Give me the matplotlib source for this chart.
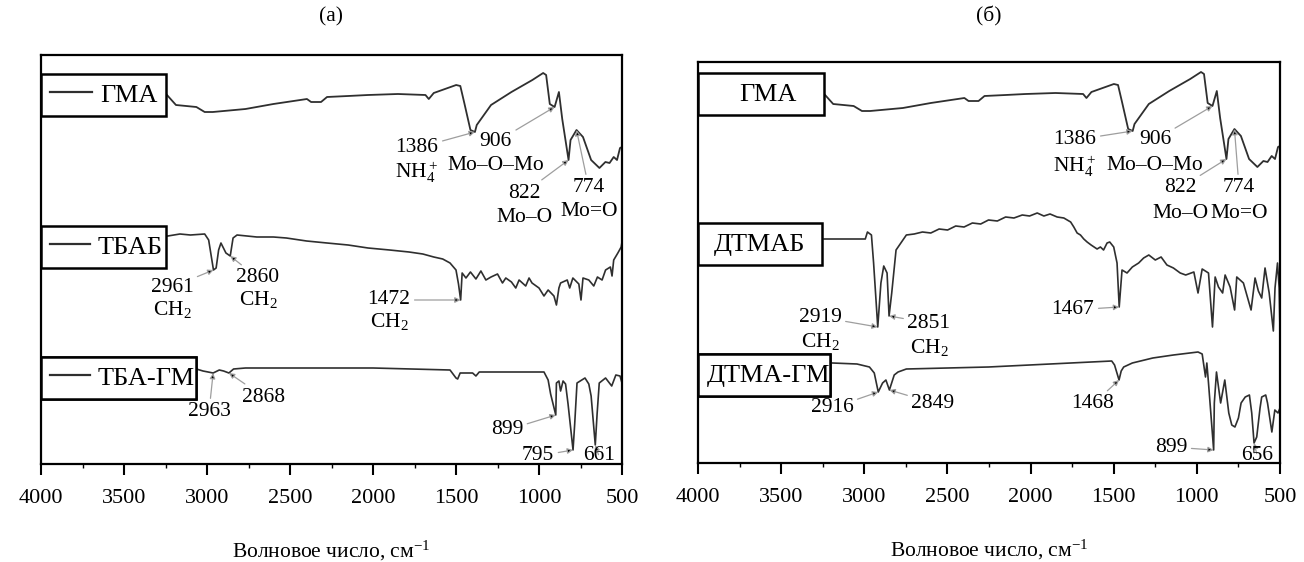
import numpy as np
import matplotlib.pyplot as plt
from matplotlib.lines import Line2D
from matplotlib.ticker import MultipleLocator

plt.rcParams['font.family'] = 'Liberation Serif'
plt.rcParams['mathtext.fontset'] = 'custom'
plt.rcParams['mathtext.rm'] = 'Liberation Serif'
plt.rcParams['mathtext.it'] = 'Liberation Serif:italic'

# IR spectra, wavenumber (cm-1) and transmittance with vertical offset (a.u.)
gma_wn = [3241, 3187, 3064, 3014, 2965, 2768, 2600, 2398, 2373, 2313, 2277, 2150,
          2030, 1850, 1684, 1664, 1634, 1499, 1474, 1450, 1413, 1386, 1375, 1289,
          1166, 1040, 975, 957, 935, 906, 880, 860, 822, 810, 774, 735, 686,
          636, 600, 575, 550, 530, 512, 500]
gma_t = [369, 359, 357, 352, 352, 355, 360, 365, 362, 362, 367, 368,
         369, 370, 369, 365, 371, 379, 378, 361, 334, 332, 339, 359,
         372, 384, 391, 389, 360, 357, 372, 345, 304, 324, 334, 327, 304,
         296, 302, 301, 307, 304, 316, 317]

tbab_wn = [3236, 3163, 3100, 3014, 2990, 2961, 2945, 2930, 2916, 2886, 2860, 2843,
           2819, 2700, 2600, 2522, 2400, 2277, 2150, 2030, 1900, 1783, 1700, 1634,
           1580, 1536, 1500, 1485, 1472, 1463, 1440, 1413, 1380, 1350, 1320, 1289,
           1250, 1220, 1200, 1166, 1140, 1120, 1080, 1060, 1042, 1000, 970, 945,
           910, 895, 880, 870, 830, 815, 796, 760, 747, 735, 700, 670, 648, 620,
           599, 570, 560, 550, 525, 505, 500]
tbab_t = [228, 230, 229, 230, 224, 194, 196, 214, 221, 211, 208, 226,
          229, 227, 227, 226, 223, 221, 219, 216, 214, 212, 210, 207,
          205, 201, 194, 180, 164, 191, 186, 192, 185, 193, 184, 187,
          190, 181, 186, 182, 176, 184, 178, 186, 181, 176, 168, 174,
          168, 159, 176, 181, 184, 176, 186, 180, 164, 186, 184, 178, 187, 184,
          194, 197, 188, 204, 211, 217, 222]

tbagm_wn = [3064, 3024, 2963, 2926, 2900, 2868, 2840, 2768, 2000, 1536, 1500, 1490,
            1475, 1400, 1380, 1360, 1042, 970, 945, 930, 899, 895, 880, 870,
            855, 840, 825, 795, 785, 771, 723, 700, 686, 661, 650, 637, 599,
            562, 537, 512, 500]
tbagm_t = [95, 93, 91, 94, 93, 91, 95, 96, 96, 94, 86, 85,
           91, 91, 88, 92, 92, 92, 84, 70, 49, 81, 83, 73,
           83, 80, 60, 14, 40, 81, 86, 80, 68, 19, 50, 81, 86,
           78, 89, 88, 81]

dtmab_wn = [3242, 2994, 2981, 2957, 2944, 2919, 2900, 2883, 2863, 2851, 2835, 2809,
            2747, 2700, 2650, 2600, 2550, 2499, 2450, 2400, 2350, 2300, 2253, 2200,
            2150, 2100, 2050, 2006, 1960, 1920, 1883, 1840, 1800, 1759, 1740, 1720,
            1700, 1680, 1660, 1636, 1600, 1580, 1561, 1540, 1524, 1500, 1480, 1467,
            1450, 1420, 1388, 1350, 1320, 1289, 1250, 1215, 1180, 1141, 1100, 1067,
            1018, 993, 968, 930, 906, 890, 870, 845, 830, 800, 773, 760, 720, 674,
            650, 630, 610, 590, 565, 540, 530, 515, 505, 500]
dtmab_t = [224, 224, 231, 228, 200, 136, 180, 197, 190, 147, 170, 213,
           228, 229, 231, 230, 234, 233, 237, 236, 240, 239, 243, 242,
           246, 245, 248, 247, 250, 247, 249, 246, 245, 241, 236, 230,
           228, 224, 221, 218, 214, 216, 213, 220, 221, 216, 200, 156,
           193, 190, 196, 200, 205, 208, 203, 206, 198, 195, 190, 188,
           191, 170, 194, 190, 136, 186, 176, 170, 188, 176, 153, 186, 180, 153,
           185, 172, 165, 195, 170, 132, 175, 200, 175, 132]

dtmagm_wn = [3191, 3044, 2969, 2940, 2916, 2890, 2870, 2849, 2820, 2797, 2747, 2253,
             1759, 1512, 1495, 1468, 1455, 1440, 1388, 1265, 1141, 993, 968, 948,
             940, 930, 899, 895, 882, 857, 832, 808, 790, 771, 750, 734, 709,
             684, 670, 656, 640, 620, 610, 586, 575, 549, 531, 512, 500]
dtmagm_t = [100, 99, 96, 90, 71, 80, 83, 73, 88, 91, 94, 96,
            100, 102, 98, 83, 92, 96, 100, 105, 108, 111, 109, 86,
            100, 80, 13, 60, 91, 60, 83, 50, 38, 36, 45, 60, 66,
            68, 50, 20, 26, 55, 66, 68, 60, 31, 53, 50, 55]

gma_peaks = [1386, 906, 822, 774]
gma_groups = ['NH$_4^+$', 'Mo–O–Mo', 'Mo–O', 'Mo=O']
tbab_peaks = [2961, 2860, 1472]
tbagm_peaks = [2963, 2868, 899, 795, 661]
dtmab_peaks = [2919, 2851, 1467]
dtmagm_peaks = [2916, 2849, 1468, 899, 656]

LINE = '#2f2f2f'
FS = 15.5


def setup(ax, top, title, pad):
    ax.set_xlim(4000, 500)
    ax.set_ylim(0, top)
    ax.set_yticks([])
    ax.xaxis.set_major_locator(MultipleLocator(500))
    ax.xaxis.set_minor_locator(MultipleLocator(250))
    ax.tick_params(axis='x', which='major', direction='out', length=8, width=1.5,
                   labelsize=16, pad=10)
    ax.tick_params(axis='x', which='minor', direction='out', length=3, width=1)
    for s in ax.spines.values():
        s.set_linewidth(1.6)
    ax.set_xlabel('Волновое число, см$^{-1}$', fontsize=FS, labelpad=22)
    ax.set_title(title, fontsize=FS, pad=pad)


def label_box(ax, text, top, width, handle=True, hl=1.6):
    h = Line2D([], [], color=LINE if handle else 'none', lw=1.6)
    leg = ax.legend([h], [text], loc='upper left', mode='expand',
                    bbox_to_anchor=(0, top, width / 580, 0),
                    borderaxespad=0, fancybox=False, edgecolor='k', framealpha=1,
                    fontsize=19, handlelength=hl,
                    handletextpad=0.3 if handle else 0, borderpad=0.35)
    leg.get_frame().set_linewidth(1.8)
    ax.add_artist(leg)


def mark(ax, wn, t, peak, xy, sub=None, sub_dy=24):
    y = np.interp(peak, wn[::-1], t[::-1])
    ax.annotate(str(peak), xy=(peak, y), xytext=xy, ha='center', va='center',
                fontsize=FS,
                arrowprops=dict(arrowstyle='-|>', ec='0.62', fc='k', lw=0.9,
                                shrinkA=1, shrinkB=0, mutation_scale=8))
    if sub:
        ax.text(xy[0], xy[1] - sub_dy, sub, ha='center', va='center', fontsize=FS)


fig = plt.figure(figsize=(13.04, 5.62), dpi=100)
ax_a = fig.add_axes([41 / 1304, 1 - 464 / 562, 581 / 1304, 409 / 562])
ax_b = fig.add_axes([698 / 1304, 1 - 463 / 562, 582 / 1304, 401 / 562])
setup(ax_a, 409, '(а)', 24)
setup(ax_b, 401, '(б)', 29)

# panel (а): ГМА, ТБАБ, ТБА-ГМ
ax_a.plot(gma_wn, gma_t, color=LINE, lw=1.3)
ax_a.plot(tbab_wn, tbab_t, color=LINE, lw=1.2)
ax_a.plot(tbagm_wn, tbagm_t, color=LINE, lw=1.2)
label_box(ax_a, 'ГМА', 0.954, 125)
label_box(ax_a, 'ТБАБ', 0.582, 125, hl=1.5)
label_box(ax_a, 'ТБА-ГМ', 0.262, 155, hl=1.5)

gma_text_a = [(1735, 316), (1260, 322), (1090, 271), (700, 276)]
for p, g, xy in zip(gma_peaks, gma_groups, gma_text_a):
    mark(ax_a, gma_wn, gma_t, p, xy, g)
tbab_text = [(3211, 177), (2693, 186), (1904, 164)]
for p, xy in zip(tbab_peaks, tbab_text):
    mark(ax_a, tbab_wn, tbab_t, p, xy, 'CH$_2$', 22)
tbagm_text = [(2988, 52), (2657, 67), (1193, 34), (1006, 8), (639, 8)]
for p, xy in zip(tbagm_peaks, tbagm_text):
    mark(ax_a, tbagm_wn, tbagm_t, p, xy)

# panel (б): ГМА, ДТМАБ, ДТМА-ГМ
ax_b.plot(gma_wn, gma_t, color=LINE, lw=1.3)
ax_b.plot(dtmab_wn, dtmab_t, color=LINE, lw=1.2)
ax_b.plot(dtmagm_wn, dtmagm_t, color=LINE, lw=1.2)
label_box(ax_b, 'ГМА', 0.9726, 126, handle=False, hl=1.2)
label_box(ax_b, 'ДТМАБ', 0.5985, 124, handle=False, hl=0.25)
label_box(ax_b, 'ДТМА-ГМ', 0.272, 132, handle=False, hl=0)

gma_text_b = [(1733, 323), (1252, 323), (1101, 275), (746, 275)]
for p, g, xy in zip(gma_peaks, gma_groups, gma_text_b):
    mark(ax_b, gma_wn, gma_t, p, xy, g, 26)
dtmab_text = [(3266, 146), (2611, 140), (1745, 153)]
for p, xy, sub in zip(dtmab_peaks, dtmab_text, ['CH$_2$', 'CH$_2$', None]):
    mark(ax_b, dtmab_wn, dtmab_t, p, xy, sub, 25)
dtmagm_text = [(3194, 55), (2587, 60), (1624, 59), (1155, 16), (638, 8)]
for p, xy in zip(dtmagm_peaks, dtmagm_text):
    mark(ax_b, dtmagm_wn, dtmagm_t, p, xy)

fig.savefig('out.png', dpi=100)
